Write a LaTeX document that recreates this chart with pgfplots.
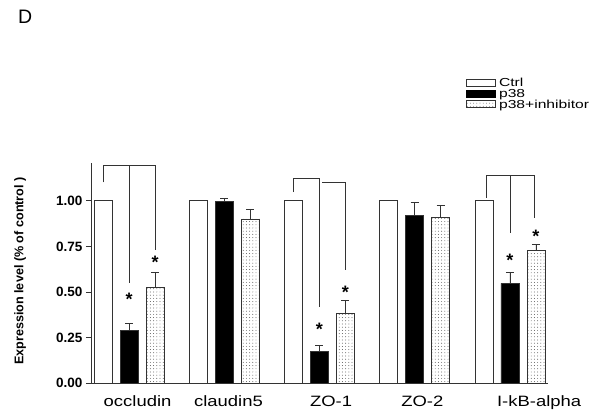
\documentclass[border=0pt]{standalone}
\usepackage{fontspec}
\setmainfont{Liberation Sans}
\newfontfamily\widefont[FakeStretch=1.23]{Liberation Sans}
\newfontfamily\legfont[FakeStretch=1.35]{Liberation Sans}
\usepackage{pgfplots}
\pgfplotsset{compat=1.18}
\usetikzlibrary{patterns.meta}

\begin{document}
\begin{tikzpicture}[x=1pt,y=1pt]
\useasboundingbox (0,0) rectangle (600,420);
\node[anchor=base west, inner sep=0pt, font=\fontsize{19.5}{20}\selectfont] at (18,396) {D};
\begin{axis}[
  at={(91pt,36.7pt)}, anchor=south west,
  scale only axis, width=457pt, height=220pt,
  xmin=-0.4, xmax=4.4, ymin=0, ymax=1.205,
  axis lines*=left,
  axis line style={line width=0.9pt, black!80},
  ytick={0,0.25,0.5,0.75,1},
  /pgf/number format/assume math mode=true,
  yticklabel style={/pgf/number format/fixed, /pgf/number format/fixed zerofill, /pgf/number format/precision=2, font=\bfseries\fontsize{13.5}{14}\selectfont},
  tick align=outside, major tick length=5pt,
  ytick style={line width=0.9pt, black!80},
  xtick={0.089,1.044,2.122,3.08,4.307},
  xticklabels={occludin,claudin5,ZO-1,ZO-2,I-kB-alpha},
  xtick style={draw=none},
  xticklabel style={font=\widefont\fontsize{15}{15}\selectfont, yshift=-4pt},
  ylabel={Expression level (\% of control )},
  ylabel style={font=\bfseries\fontsize{12.6}{13}\selectfont, at={(axis description cs:-0.155,0.51)}, anchor=center},
  legend style={at={(axis description cs:0.820,1.391)}, anchor=north west, draw=none, fill=none,
    font=\legfont\fontsize{11.6}{12}\selectfont, inner sep=0pt, outer sep=0pt, row sep=0pt,
    nodes={inner sep=1.2pt, text height=8.4pt, text depth=0pt}},
  legend cell align=left,
  clip=false,
]
\addplot[ybar, bar width=18pt, bar shift=0pt, fill=white, draw=black!80, line width=0.8pt,
  legend image code/.code={\draw[draw=black!80, fill=white, line width=0.6pt] (0pt,-3.5pt) rectangle (29pt,3.5pt);}]
  coordinates {(-0.273,1) (0.727,1) (1.727,1) (2.727,1) (3.727,1)};
\addplot[ybar, bar width=18pt, bar shift=0pt, fill=black, draw=black!80, line width=0.8pt,
  legend image code/.code={\draw[draw=black, fill=black, line width=0.6pt] (0pt,-3.5pt) rectangle (29pt,3.5pt);},
  error bars/.cd, y dir=plus, y explicit,
  error bar style={line width=0.8pt, black!80},
  error mark options={rotate=90, mark size=4pt, line width=0.8pt, black!80}]
  coordinates {(0,0.29) +- (0,0.038) (1,0.995) +- (0,0.015) (2,0.175) +- (0,0.03) (3,0.921) +- (0,0.07) (4,0.547) +- (0,0.06)};
\addplot[ybar, bar width=18pt, bar shift=0pt, pattern={Dots[distance=3.2pt, radius=0.45pt]}, pattern color=black!75, draw=black!80, line width=0.8pt,
  legend image code/.code={\draw[draw=black!80, line width=0.6pt, pattern={Dots[distance=3.2pt, radius=0.45pt]}, pattern color=black!60] (0pt,-3.5pt) rectangle (29pt,3.5pt);},
  error bars/.cd, y dir=plus, y explicit,
  error bar style={line width=0.8pt, black!80},
  error mark options={rotate=90, mark size=4pt, line width=0.8pt, black!80}]
  coordinates {(0.273,0.523) +- (0,0.085) (1.273,0.90) +- (0,0.055) (2.273,0.381) +- (0,0.073) (3.273,0.906) +- (0,0.068) (4.273,0.726) +- (0,0.036)};
\legend{\hspace{2.5pt}Ctrl,\hspace{2.5pt}p38,\hspace{2.5pt}p38+inhibitor}
% brackets
\addplot[forget plot, sharp plot, draw=black!80, line width=0.8pt] coordinates {(-0.275,1.10) (-0.275,1.195) (0.273,1.195) (0.273,0.73)};
\addplot[forget plot, sharp plot, draw=black!80, line width=0.8pt] coordinates {(0,1.195) (0,0.547)};
\addplot[forget plot, sharp plot, draw=black!80, line width=0.8pt] coordinates {(1.727,1.047) (1.727,1.122) (2,1.122) (2,0.418)};
\addplot[forget plot, sharp plot, draw=black!80, line width=0.8pt] coordinates {(2.03,1.10) (2.273,1.10) (2.273,0.62)};
\addplot[forget plot, sharp plot, draw=black!80, line width=0.8pt] coordinates {(3.75,1.016) (3.75,1.14) (4.255,1.14) (4.255,0.903)};
\addplot[forget plot, sharp plot, draw=black!80, line width=0.8pt] coordinates {(4.0,1.14) (4.0,0.824)};
% stars
\tikzset{star/.style={font=\bfseries\fontsize{18}{18}\selectfont, yshift=-4pt, inner sep=0pt}}
\node[star] at (axis cs:0,0.48) {*};
\node[star] at (axis cs:0.273,0.687) {*};
\node[star] at (axis cs:2,0.315) {*};
\node[star] at (axis cs:2.273,0.523) {*};
\node[star] at (axis cs:4,0.697) {*};
\node[star] at (axis cs:4.273,0.828) {*};
\end{axis}
\end{tikzpicture}
\end{document}
